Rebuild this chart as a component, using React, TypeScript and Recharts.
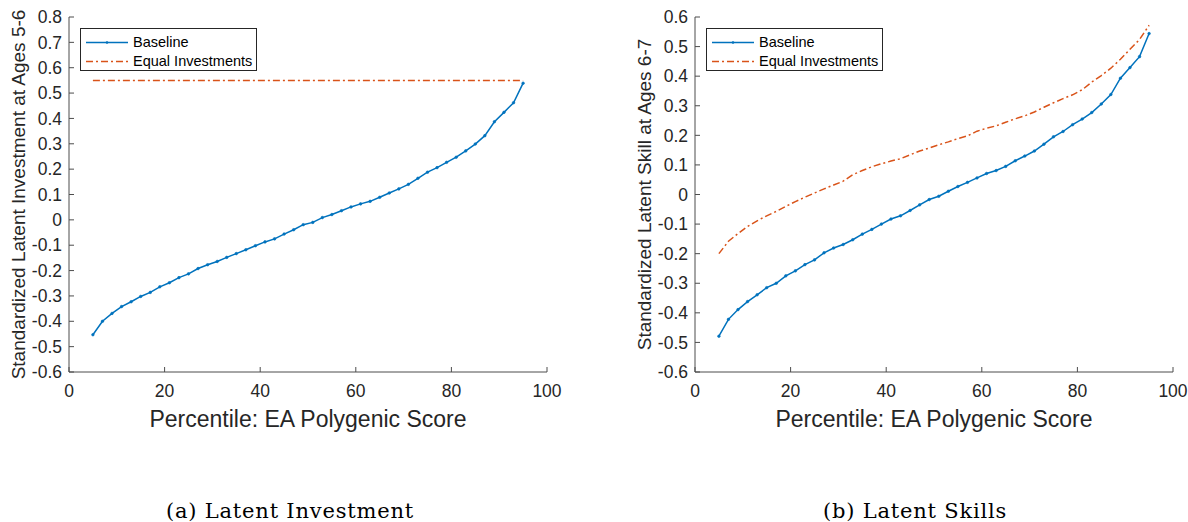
import { Legend, Line, LineChart, XAxis, YAxis } from "recharts";

const percentiles = [
  5, 7, 9, 11, 13, 15, 17, 19, 21, 23, 25, 27, 29, 31, 33, 35, 37, 39, 41, 43,
  45, 47, 49, 51, 53, 55, 57, 59, 61, 63, 65, 67, 69, 71, 73, 75, 77, 79, 81,
  83, 85, 87, 89, 91, 93, 95,
];

// (a) latent investment at ages 5-6
const investBaseline = [
  -0.453, -0.4, -0.369, -0.342, -0.323, -0.302, -0.286, -0.264, -0.248, -0.228,
  -0.213, -0.192, -0.177, -0.164, -0.148, -0.133, -0.118, -0.102, -0.087,
  -0.075, -0.056, -0.039, -0.019, -0.01, 0.009, 0.021, 0.036, 0.051, 0.063,
  0.073, 0.089, 0.106, 0.122, 0.14, 0.164, 0.188, 0.206, 0.227, 0.247, 0.272,
  0.299, 0.332, 0.387, 0.424, 0.462, 0.539,
];
const investEqual = [
  0.55, 0.55, 0.55, 0.55, 0.55, 0.55, 0.55, 0.55, 0.55, 0.55, 0.55, 0.55, 0.55,
  0.55, 0.55, 0.55, 0.55, 0.55, 0.55, 0.55, 0.55, 0.55, 0.55, 0.55, 0.55, 0.55,
  0.55, 0.55, 0.55, 0.55, 0.55, 0.55, 0.55, 0.55, 0.55, 0.55, 0.55, 0.55, 0.55,
  0.55, 0.55, 0.55, 0.55, 0.55, 0.55, 0.55,
];

// (b) latent skill at ages 6-7
const skillBaseline = [
  -0.479, -0.422, -0.389, -0.362, -0.339, -0.315, -0.3, -0.275, -0.258, -0.237,
  -0.221, -0.197, -0.181, -0.169, -0.153, -0.134, -0.118, -0.1, -0.083, -0.072,
  -0.054, -0.035, -0.017, -0.006, 0.011, 0.027, 0.041, 0.056, 0.071, 0.081,
  0.095, 0.114, 0.13, 0.147, 0.17, 0.195, 0.213, 0.236, 0.255, 0.277, 0.306,
  0.338, 0.393, 0.429, 0.466, 0.544,
];
const skillEqual = [
  -0.2, -0.158, -0.132, -0.108, -0.089, -0.072, -0.057, -0.04, -0.024, -0.009,
  0.005, 0.019, 0.032, 0.045, 0.067, 0.081, 0.094, 0.104, 0.113, 0.121, 0.134,
  0.147, 0.157, 0.168, 0.178, 0.189, 0.198, 0.214, 0.224, 0.232, 0.244, 0.256,
  0.266, 0.279, 0.295, 0.31, 0.324, 0.337, 0.354, 0.38, 0.402, 0.427, 0.457,
  0.491, 0.524, 0.572,
];

const seriesNames = ["Baseline", "Equal Investments"];
const xTicks = [0, 20, 40, 60, 80, 100];
const investTicks = [
  -0.6, -0.5, -0.4, -0.3, -0.2, -0.1, 0, 0.1, 0.2, 0.3, 0.4, 0.5, 0.6, 0.7, 0.8,
];
const skillTicks = [
  -0.6, -0.5, -0.4, -0.3, -0.2, -0.1, 0, 0.1, 0.2, 0.3, 0.4, 0.5, 0.6,
];

const BLUE = "#0072BD";
const ORANGE = "#D95319";
const AXIS = "#4d4d4d";
const TEXT = "#262626";
const SANS = "'Liberation Sans', Arial, sans-serif";
const EQUAL_DASH = "7 3 2 3";

function toRows(baseline: number[], equal: number[]) {
  return percentiles.map((p, i) => ({ p, baseline: baseline[i], equal: equal[i] }));
}

function PanelLegend() {
  return (
    <div
      style={{
        boxSizing: "border-box",
        width: 177,
        height: 43,
        paddingTop: 4,
        border: `1px solid ${TEXT}`,
        background: "#fff",
        fontFamily: SANS,
        fontSize: 14.5,
        color: "#000",
      }}
    >
      {seriesNames.map((name, i) => (
        <div key={name} style={{ display: "flex", alignItems: "center", height: 19 }}>
          <svg width={52} height={19} style={{ display: "block" }}>
            <line
              x1={5}
              x2={47}
              y1={9.5}
              y2={9.5}
              stroke={i === 0 ? BLUE : ORANGE}
              strokeWidth={1.5}
              strokeDasharray={i === 0 ? undefined : EQUAL_DASH}
            />
            {i === 0 && <circle cx={26} cy={9.5} r={1.3} fill={BLUE} />}
          </svg>
          <span style={{ lineHeight: "19px", whiteSpace: "nowrap" }}>{name}</span>
        </div>
      ))}
    </div>
  );
}

interface PanelProps {
  left: number;
  baseline: number[];
  equal: number[];
  yTicks: number[];
  yLabel: string;
}

function Panel({ left, baseline, equal, yTicks, yLabel }: PanelProps) {
  const yDomain = [yTicks[0], yTicks[yTicks.length - 1]];
  return (
    <div style={{ position: "absolute", left, top: 0 }}>
      <LineChart
        width={575}
        height={440}
        data={toRows(baseline, equal)}
        margin={{ top: 17, right: 28, bottom: 0, left: 0 }}
        style={{ fontFamily: SANS }}
      >
        <XAxis
          dataKey="p"
          type="number"
          domain={[0, 100]}
          ticks={xTicks}
          interval={0}
          height={68}
          tickSize={-5}
          tickMargin={18}
          stroke={AXIS}
          tick={{ fill: TEXT, fontSize: 17.5 }}
          label={{
            value: "Percentile: EA Polygenic Score",
            position: "insideBottom",
            offset: 13,
            fontSize: 23,
            fill: TEXT,
          }}
        />
        <YAxis
          type="number"
          domain={yDomain}
          ticks={yTicks}
          interval={0}
          width={69}
          tickSize={-5}
          tickMargin={12}
          stroke={AXIS}
          tick={{ fill: TEXT, fontSize: 17.5 }}
          tickFormatter={(v: number) => String(Number(v.toFixed(1)))}
          label={{
            value: yLabel,
            angle: -90,
            position: "insideLeft",
            offset: 18,
            fontSize: 19,
            fill: TEXT,
            style: { textAnchor: "middle" },
          }}
        />
        <Legend
          layout="vertical"
          align="center"
          verticalAlign="middle"
          content={() => <PanelLegend />}
          wrapperStyle={{ left: 80, top: 28, width: 177, height: 43 }}
        />
        <Line
          type="linear"
          dataKey="baseline"
          name={seriesNames[0]}
          stroke={BLUE}
          strokeWidth={1.5}
          dot={{ r: 1.3, fill: BLUE, stroke: BLUE, strokeWidth: 0.6 }}
          isAnimationActive={false}
        />
        <Line
          type="linear"
          dataKey="equal"
          name={seriesNames[1]}
          stroke={ORANGE}
          strokeWidth={1.5}
          strokeDasharray={EQUAL_DASH}
          dot={false}
          isAnimationActive={false}
        />
      </LineChart>
    </div>
  );
}

const captionStyle = {
  position: "absolute" as const,
  top: 499,
  width: 400,
  textAlign: "center" as const,
  fontFamily: "'DejaVu Serif', serif",
  fontSize: 21,
  letterSpacing: 0.8,
  color: "#000",
};

export default function App() {
  return (
    <div
      style={{
        position: "fixed",
        left: 0,
        top: 0,
        width: 1188,
        height: 522,
        background: "#fff",
        overflow: "hidden",
      }}
    >
      <Panel
        left={0}
        baseline={investBaseline}
        equal={investEqual}
        yTicks={investTicks}
        yLabel="Standardized Latent Investment at Ages 5-6"
      />
      <Panel
        left={626}
        baseline={skillBaseline}
        equal={skillEqual}
        yTicks={skillTicks}
        yLabel="Standardized Latent Skill at Ages 6-7"
      />
      <div style={{ ...captionStyle, left: 90 }}>(a) Latent Investment</div>
      <div style={{ ...captionStyle, left: 715 }}>(b) Latent Skills</div>
    </div>
  );
}
